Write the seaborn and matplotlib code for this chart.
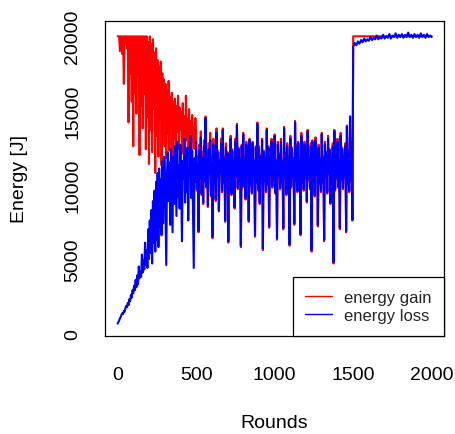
import matplotlib
matplotlib.use("Agg")
import matplotlib.pyplot as plt
from matplotlib.lines import Line2D
import seaborn as sns
import pandas as pd

# ---- data (every 5 rounds up to 1495, every 10 after) ----
rounds = list(range(0, 1500, 5)) + list(range(1500, 2001, 10))

gain_000 = [20000, 20000, 20000, 19000, 20000, 20000, 18800, 20000, 16800, 20000,
            20000, 20000, 19200, 20000, 14200, 20000, 17500, 20000, 15600, 20000]
gain_100 = [12600, 20000, 16200, 20000, 14800, 20000, 17400, 20000, 12000, 20000,
            15300, 20000, 13800, 20000, 16100, 20000, 12400, 20000, 14600, 19600]
gain_200 = [11400, 20000, 13700, 19500, 12200, 19800, 15100, 18900, 10800, 19200,
            13300, 18400, 11900, 17900, 14400, 18300, 11300, 17500, 12800, 17100]
gain_300 = [12600, 16800, 11800, 16300, 13400, 17000, 12300, 15900, 13900, 16200,
            11500, 15600, 13100, 15800, 12200, 15300, 13600, 16000, 12400, 15200]
gain_400 = [13700, 14900, 12100, 15500, 13200, 14600, 11900, 16000, 13000, 14400,
            12300, 15100, 12800, 14300, 11600, 14700, 12900, 13900, 12400, 14500]
gain_500 = [13400, 9600, 11900, 6800, 12700, 10400, 13600, 9300, 12200, 8700,
            13000, 10200, 14600, 9800, 12100, 8500, 12800, 10700, 13500, 9200]
gain_600 = [11900, 6400, 13100, 10000, 12000, 8900, 13800, 10500, 12300, 8200,
            11700, 10800, 13100, 9500, 13800, 10100, 11900, 7500, 12800, 10300]
gain_700 = [12200, 6100, 12000, 10600, 13300, 9300, 12400, 10000, 11700, 8400,
            13100, 10500, 14100, 9700, 12500, 10200, 11800, 5800, 12700, 9800]
gain_800 = [13500, 10300, 11900, 9000, 12900, 10700, 12000, 7500, 13100, 9900,
            12500, 9400, 12900, 10600, 11700, 6500, 12600, 10100, 14200, 9600]
gain_900 = [12600, 8700, 12000, 10400, 13100, 5600, 12300, 10200, 11900, 9500,
            13800, 10000, 12600, 7100, 11900, 10600, 13100, 9800, 12300, 10300]
gain_1000 = [13400, 9400, 11700, 6300, 12900, 10500, 12100, 9700, 13100, 10100,
             11600, 7000, 13900, 10400, 12200, 9300, 12800, 10700, 11900, 5900]
gain_1100 = [13300, 9800, 12500, 10500, 11800, 7300, 14300, 10200, 12700, 9500,
             12900, 10800, 11700, 6600, 13500, 10100, 12200, 9600, 12900, 10400]
gain_1200 = [12500, 8800, 13700, 10300, 11900, 9700, 12800, 5500, 13000, 10200,
             12100, 9200, 13200, 10600, 12300, 7200, 12700, 10000, 11800, 9500]
gain_1300 = [13500, 10100, 11900, 6200, 12900, 10500, 12200, 9400, 13300, 10700,
             12400, 8700, 11800, 10200, 12800, 4700, 13700, 9600, 12100, 10400]
gain_1400 = [13100, 9800, 11700, 7000, 13500, 10300, 12500, 9700, 12100, 10500,
             12800, 6800, 14000, 10000, 12300, 9500, 14600, 10200, 13000, 7700]
gain_late = [20000, 20000, 20000, 20000, 20000, 20000, 20000, 20000, 20000, 20000,
             20000, 20000, 20000, 20000, 20000, 20000, 20000, 20000, 20000, 20000,
             20000, 20000, 20000, 20000, 20000, 20000, 20000, 20000, 20000, 20000,
             20000, 20000, 20000, 20000, 20000, 20000, 20000, 20000, 20000, 20000,
             20000, 20000, 20000, 20000, 20000, 20000, 20000, 20000, 20000, 20000,
             20000]

loss_000 = [650, 750, 850, 1000, 1100, 1250, 1350, 1300, 1500, 1450,
            1700, 1850, 1750, 2050, 1900, 2300, 2150, 2600, 2400, 2900]
loss_100 = [2700, 3200, 2900, 3600, 3100, 3900, 3300, 4500, 3700, 4200,
            3800, 5300, 4100, 4900, 4300, 6100, 4600, 5600, 4400, 7000]
loss_200 = [5000, 7600, 5400, 8300, 4700, 8900, 6100, 9600, 5500, 10200,
            6300, 10800, 5800, 11100, 7200, 10400, 6600, 11600, 7400, 11900]
loss_300 = [11800, 8200, 4600, 10900, 12200, 8900, 11500, 7300, 12400, 9600,
            6800, 11900, 8700, 12600, 10100, 7900, 12900, 9200, 11300, 8400]
loss_400 = [12700, 9800, 6200, 11600, 10400, 13100, 8800, 11900, 9500, 12500,
            7600, 11200, 10600, 13300, 9100, 12300, 8300, 4400, 11800, 10200]
loss_500 = [12900, 9700, 11400, 6900, 12300, 10500, 13200, 9400, 11800, 8800,
            12600, 10300, 14500, 9900, 11700, 8600, 12400, 10800, 13000, 9300]
loss_600 = [11500, 6500, 12700, 10100, 11900, 9000, 13500, 10600, 12200, 8300,
            11600, 10900, 12800, 9600, 13700, 10200, 11800, 7600, 12500, 10400]
loss_700 = [12100, 6200, 11900, 10700, 13100, 9400, 12300, 10100, 11600, 8500,
            12900, 10600, 14000, 9800, 12400, 10300, 11700, 5900, 12600, 9900]
loss_800 = [13400, 10400, 11800, 9100, 12700, 10800, 11900, 7600, 13000, 10000,
            12300, 9500, 12800, 10700, 11600, 6600, 12500, 10200, 14100, 9700]
loss_900 = [12400, 8800, 11900, 10500, 13000, 5700, 12200, 10300, 11700, 9600,
            13700, 10100, 12500, 7200, 11800, 10700, 12900, 9900, 12200, 10400]
loss_1000 = [13300, 9500, 11600, 6400, 12700, 10600, 12000, 9800, 12900, 10200,
             11500, 7100, 13800, 10500, 12100, 9400, 12600, 10800, 11800, 6000]
loss_1100 = [13100, 9900, 12400, 10600, 11700, 7400, 14200, 10300, 12500, 9600,
             12800, 10900, 11600, 6700, 13300, 10200, 12100, 9700, 12700, 10500]
loss_1200 = [12300, 8900, 13600, 10400, 11800, 9800, 12600, 5600, 12900, 10300,
             11900, 9300, 13000, 10700, 12200, 7300, 12500, 10100, 11700, 9600]
loss_1300 = [13400, 10200, 11800, 6300, 12700, 10600, 12100, 9500, 13100, 10800,
             12300, 8800, 11700, 10300, 12600, 4800, 13600, 9700, 12000, 10500]
loss_1400 = [12900, 9900, 11600, 7100, 13300, 10400, 12400, 9800, 11900, 10600,
             12600, 6900, 13900, 10100, 12200, 9600, 14600, 10300, 12800, 7600]
loss_late = [19300, 19550, 19400, 19650, 19500, 19750, 19600, 19850, 19650, 19800,
             19700, 19950, 19750, 19900, 19800, 20050, 19800, 19950, 19850, 20100,
             19850, 20000, 19900, 20150, 19850, 20050, 19950, 20200, 19900, 20100,
             19950, 20150, 19900, 20100, 19950, 20250, 19950, 20100, 19900, 20150,
             19950, 20100, 19900, 20200, 19950, 20100, 19900, 20150, 19950, 20050,
             19950]

energy_gain = (gain_000 + gain_100 + gain_200 + gain_300 + gain_400 + gain_500 + gain_600
               + gain_700 + gain_800 + gain_900 + gain_1000 + gain_1100 + gain_1200
               + gain_1300 + gain_1400 + gain_late)
energy_loss = (loss_000 + loss_100 + loss_200 + loss_300 + loss_400 + loss_500 + loss_600
               + loss_700 + loss_800 + loss_900 + loss_1000 + loss_1100 + loss_1200
               + loss_1300 + loss_1400 + loss_late)

series_names = ["energy gain", "energy loss"]
series_colors = ["#FF0000", "#0000FF"]
x_ticks = [0, 500, 1000, 1500, 2000]
y_ticks = [0, 5000, 10000, 15000, 20000]

df = pd.DataFrame({
    "Rounds": rounds + rounds,
    "Energy": energy_gain + energy_loss,
    "series": [series_names[0]] * len(rounds) + [series_names[1]] * len(rounds),
})

# ---- figure ----
sns.set_style("white")
plt.rcParams["font.family"] = ["Liberation Sans", "DejaVu Sans"]

W, H = 456, 435
fig = plt.figure(figsize=(W / 100, H / 100), dpi=100)
left, right, top, bottom = 105, 444.3, 22.3, 336.7
ax = fig.add_axes([left / W, 1 - bottom / H, (right - left) / W, (bottom - top) / H])

sns.lineplot(data=df, x="Rounds", y="Energy", hue="series",
             palette=dict(zip(series_names, series_colors)),
             estimator=None, sort=False, linewidth=1.5, legend=False, ax=ax)

ax.set_xlim(-80, 2080)
ax.set_ylim(-162, 21010)
ax.set_xticks(x_ticks)
ax.set_yticks(y_ticks)
ax.set_xticklabels([str(t) for t in x_ticks])
ax.set_yticklabels([str(t) for t in y_ticks])

for s in ax.spines.values():
    s.set_visible(True)
    s.set_color("black")
    s.set_linewidth(0.9)

ax.tick_params(axis="both", direction="out", length=8.6, width=0.9,
               colors="black", labelsize=14)
ax.tick_params(axis="x", pad=13)
ax.tick_params(axis="y", pad=8.5)
for lab in ax.get_yticklabels():
    lab.set_rotation(90)
    lab.set_va("center")
    lab.set_ha("right")

ax.set_xlabel("Rounds", fontsize=14, color="black")
ax.set_ylabel("Energy [J]", fontsize=14, color="black")
ax.xaxis.label.set_va("center")
ax.xaxis.set_label_coords(0.5, (bottom - 423) / (bottom - top))
ax.yaxis.label.set_va("center")
ax.yaxis.label.set_ha("center")
ax.yaxis.set_label_coords((20 - left) / (right - left), 0.5)

handles = [Line2D([0], [0], color=c, lw=1.0) for c in series_colors]
leg = ax.legend(handles, series_names, loc="lower right", bbox_to_anchor=(1, 0),
                borderaxespad=0, frameon=True, fancybox=False, framealpha=1,
                edgecolor="black", fontsize=12, handlelength=1.6,
                handletextpad=0.74, borderpad=0.75, labelspacing=0.2)
leg.get_frame().set_linewidth(0.9)

fig.savefig("out.png", dpi=100)
